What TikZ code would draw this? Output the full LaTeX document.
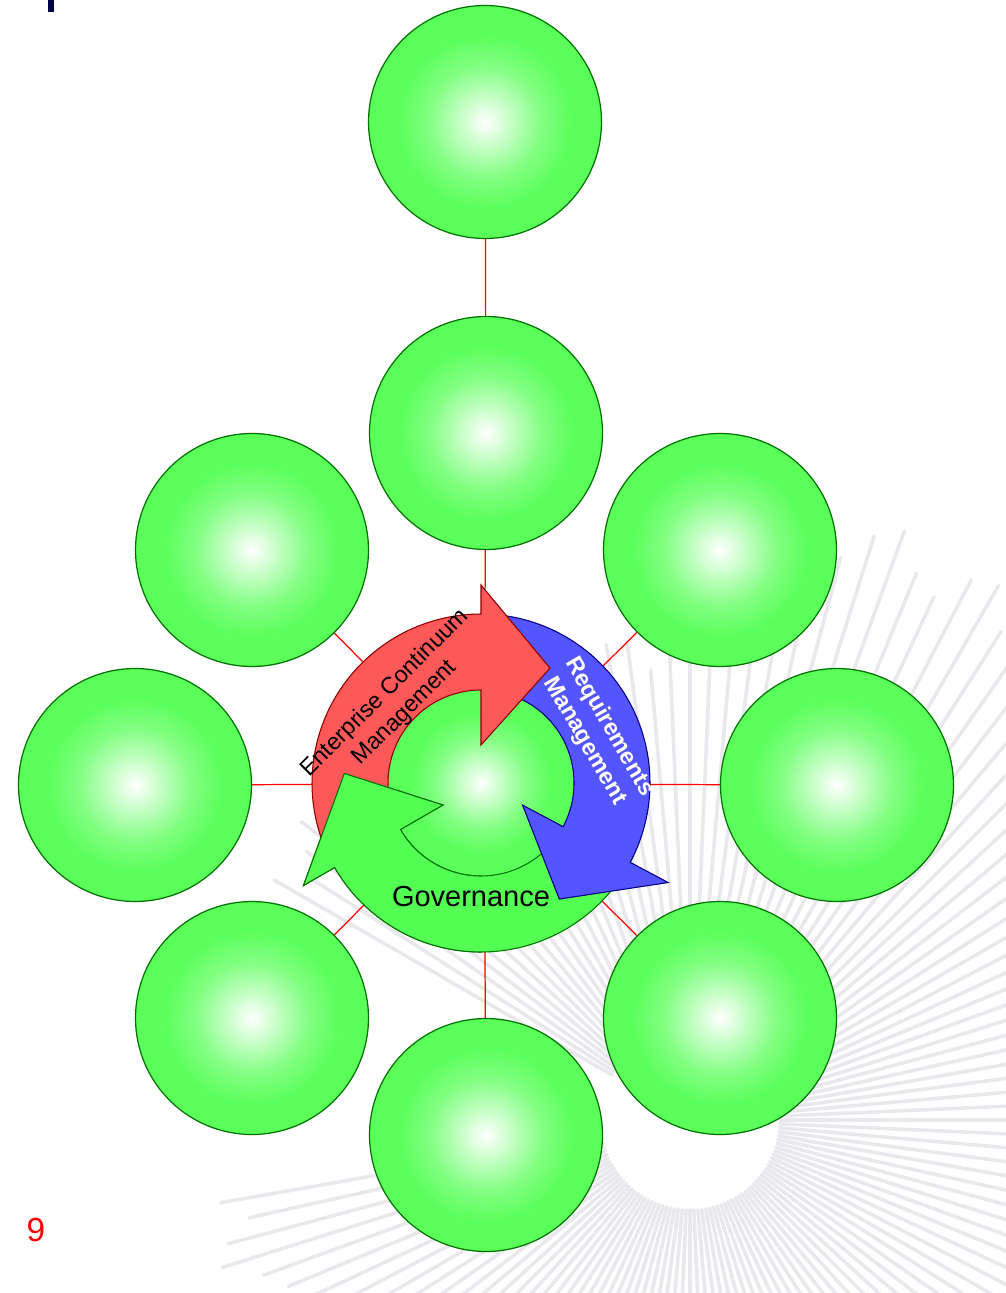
\documentclass[tikz,border=0pt]{standalone}
\usepackage{fontspec}
\setmainfont{Liberation Sans}
\usepackage{tikz}
\usetikzlibrary{shapes}
\definecolor{ballgreen}{RGB}{90,255,90}
\definecolor{ballline}{RGB}{0,115,0}
\definecolor{ecmred}{RGB}{255,88,88}
\definecolor{reqblue}{RGB}{85,85,255}
\definecolor{govgreen}{RGB}{82,255,82}
\definecolor{raygray}{RGB}{165,165,185}
\definecolor{titlenavy}{RGB}{0,0,70}
\pgfdeclareradialshading{glow}{\pgfpoint{0bp}{0bp}}{color(0bp)=(white); color(6bp)=(white!62!ballgreen); color(12bp)=(white!25!ballgreen); color(19bp)=(ballgreen); color(50bp)=(ballgreen)}
\tikzstyle{ball} = [circle, draw=ballline, line width=0.7pt, shading=glow,
                minimum size=4.66cm, inner sep=0pt]
\tikzstyle{spoke} = [draw, red, line width=0.7pt]
\tikzstyle{ray} = [raygray, line width=2pt, line cap=round, opacity=0.25]
\tikzstyle{cyc} = [line width=0.6pt, line join=miter]

\begin{document}
\begin{tikzpicture}[x=0.02cm, y=0.02cm]
            \fill[white] (0,0) rectangle (1006,-1293);
            \useasboundingbox (0,0) rectangle (1006,-1293);
            % grey burst behind everything
            \begin{scope}[shift={(690,-1120)}]
                \foreach \a in {-170,-167.5,...,90} {
                    \pgfmathsetmacro{\len}{500+110*sin(\a)+25*sin(37*\a)}
                    \draw[ray] (\a:90) -- (\a:\len);
                }
                \foreach \a in {92.5,95,...,150} {
                    \pgfmathsetmacro{\len}{470+20*sin(41*\a)}
                    \draw[ray] (\a:90) -- (\a:\len);
                }
            \end{scope}
            \fill[titlenavy] (48,0) rectangle (54,-12);
            \coordinate (hub) at (484,-784);
            \node[ball](top) at (485,-122){};
            \node[ball](mid) at (486,-433){};
            \node[ball](ul) at (252,-550){};
            \node[ball](ur) at (720,-550){};
            \node[ball](lft) at (135,-785){};
            \node[ball](rgt) at (837,-785){};
            \node[ball](ll) at (252,-1018){};
            \node[ball](lr) at (720,-1018){};
            \node[ball](bot) at (486,-1135){};
            \path[spoke] (top) -- (mid);
            \path[spoke] (hub) -- (mid);
            \path[spoke] (hub) -- (ul);
            \path[spoke] (hub) -- (ur);
            \path[spoke] (hub) -- (lft);
            \path[spoke] (hub) -- (rgt);
            \path[spoke] (hub) -- (ll);
            \path[spoke] (hub) -- (lr);
            \path[spoke] (hub) -- (bot);
            \begin{scope}[shift={(481,-783)}]
                \node[ball, minimum size=3.8cm](core) at (0,0){};
                % governance
                \draw[cyc, fill=govgreen, draw=ballline] (-38:169) arc[start angle=-38, end angle=-150, radius=169]
                    -- (-150:205) -- (-184:137) -- (-150:44) -- (-150:93)
                    arc[start angle=-150, end angle=-38, radius=93] -- cycle;
                % requirements
                \draw[cyc, fill=reqblue, draw=blue!50!black] (85:169) arc[start angle=85, end angle=-28, radius=169]
                    -- (-28:212) -- (-56:140) -- (-28:47) -- (-28:93)
                    arc[start angle=-28, end angle=85, radius=93] -- cycle;
                % enterprise continuum
                \draw[cyc, fill=ecmred, draw=red!55!black] (205:169) arc[start angle=205, end angle=90, radius=169]
                    -- (90:198) -- (59:134) -- (90:38) -- (90:93)
                    arc[start angle=90, end angle=205, radius=93] -- cycle;
                % green head again on top of the red tail
                \begin{scope}
                    \clip (-250,-250) rectangle (0,250);
                    \draw[cyc, fill=govgreen, draw=ballline] (-38:169) arc[start angle=-38, end angle=-150, radius=169]
                        -- (-150:205) -- (-184:137) -- (-150:44) -- (-150:93)
                        arc[start angle=-150, end angle=-38, radius=93] -- cycle;
                \end{scope}
            \end{scope}
            \node[rotate=45, align=center, font=\fontsize{13.3}{16}\selectfont](ecm) at (395,-703){Enterprise Continuum\\Management};
            \node[rotate=-60, align=center, text=white, font=\bfseries\fontsize{13.3}{16}\selectfont](req) at (597,-734){Requirements\\Management};
            \node[font=\fontsize{16.5}{19}\selectfont](gov) at (471,-897){Governance};
            \node[text=red, font=\fontsize{19}{22}\selectfont](pg) at (36,-1230){9};
        \end{tikzpicture}
\end{document}
